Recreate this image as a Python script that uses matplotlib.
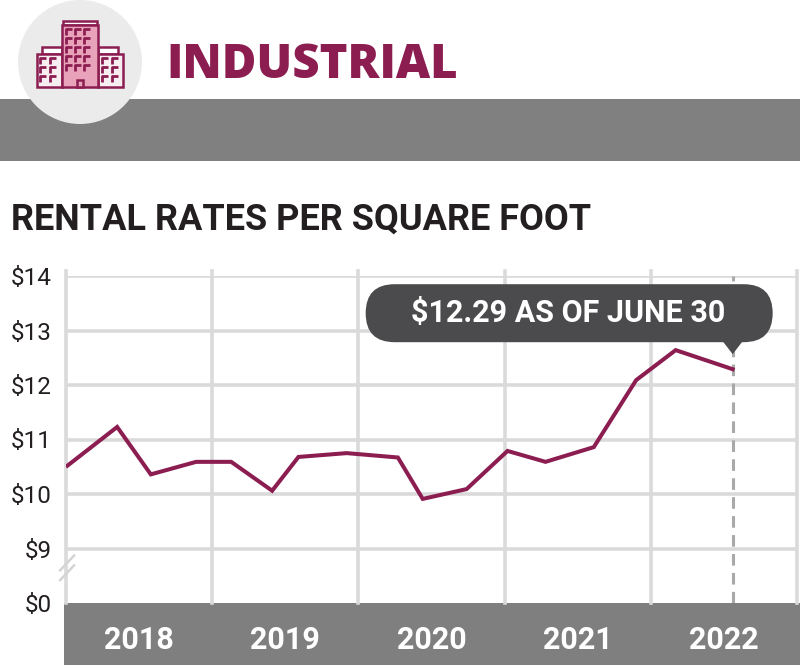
import matplotlib

matplotlib.use("Agg")
import matplotlib.pyplot as plt
import matplotlib.transforms as mtransforms
from matplotlib.patches import Circle, FancyBboxPatch, Polygon, Rectangle

# ---------------------------------------------------------------------------
# Data
# ---------------------------------------------------------------------------
dates = [
    2018.01, 2018.35, 2018.58, 2018.89, 2019.13, 2019.41, 2019.59, 2019.92,
    2020.27, 2020.44, 2020.74, 2021.02, 2021.28, 2021.61, 2021.90, 2022.17,
    2022.56,
]
rates = [
    10.52, 11.23, 10.36, 10.59, 10.59, 10.06, 10.68, 10.75,
    10.67, 9.91, 10.09, 10.79, 10.59, 10.86, 12.09, 12.64,
    12.29,
]
years = [2018, 2019, 2020, 2021, 2022]
ytick_values = [8, 9, 10, 11, 12, 13, 14]
ytick_labels = ["$0", "$9", "$10", "$11", "$12", "$13", "$14"]
as_of = "JUNE 30"

MAROON = "#8c1d51"
PINK = "#e8a3bb"
GRID = "#dadada"
BAND = "#7f7f7f"
DARK = "#4b4b4d"
INK = "#231f20"

fig = plt.figure(figsize=(8.0, 6.65), dpi=100)

# background layer in pixel coordinates (y down)
bg = fig.add_axes([0, 0, 1, 1])
bg.set_xlim(0, 800)
bg.set_ylim(665, 0)
bg.axis("off")

bg.add_patch(Rectangle((0, 99), 800, 62, color="#808080", lw=0))
bg.add_patch(Circle((80, 62), 62, color="#ebebeb", lw=0))
bg.add_patch(Rectangle((64, 603), 736, 62, color=BAND, lw=0))

# building icon
lw_icon = 1.8
bg.add_patch(Rectangle((63, 21), 34, 4, fc="white", ec=MAROON, lw=lw_icon))
bg.add_patch(Rectangle((42, 47), 20, 7, fc="white", ec=MAROON, lw=lw_icon))
bg.add_patch(Rectangle((98, 47), 20, 7, fc="white", ec=MAROON, lw=lw_icon))
bg.add_patch(Rectangle((37, 54), 25, 33, fc="#f7eef2", ec=MAROON, lw=lw_icon))
bg.add_patch(Rectangle((98, 54), 25, 33, fc="#f7eef2", ec=MAROON, lw=lw_icon))
bg.add_patch(Rectangle((62, 25), 36, 62, fc=PINK, ec=MAROON, lw=lw_icon))
bg.add_patch(Rectangle((77, 80), 6, 7, fc=PINK, ec=MAROON, lw=lw_icon))


def window(x, y):
    bg.plot([x, x, x + 6], [y + 6, y, y], color=MAROON, lw=2.0,
            solid_capstyle="butt")


for cx in (66, 75, 84):
    for ry in (29, 38, 47, 56, 65):
        window(cx, ry)
for cx in (40, 50, 102, 112):
    for ry in (58, 67, 76):
        window(cx, ry)

bg.text(166, 78, "INDUSTRIAL", fontsize=34, fontweight="heavy",
        family=["Open Sans", "DejaVu Sans"], color=MAROON, va="baseline")
bg.text(11, 230, "RENTAL RATES PER SQUARE FOOT", fontsize=26,
        fontweight="bold", family=["Roboto", "DejaVu Sans"], color=INK,
        va="baseline")

# ---------------------------------------------------------------------------
# Chart
# ---------------------------------------------------------------------------
ax = fig.add_axes([66 / 800, 62 / 665, 731 / 800, 327 / 665])
ax.patch.set_alpha(0)
ax.set_xlim(years[0], years[-1] + 1)
ax.set_ylim(ytick_values[0], ytick_values[-1])
for s in ax.spines.values():
    s.set_visible(False)

for v in ytick_values[1:]:
    ax.axhline(v, color=GRID, lw=2.6, zorder=1)
for yr in years + [years[-1] + 1]:
    ax.axvline(yr, ymin=0, ymax=1.015, color=GRID, lw=2.6, zorder=1,
               clip_on=False)

ax.axvline(dates[-1], color="#a9a9a9", lw=2.2, linestyle=(0, (3.8, 2.4)),
           zorder=2)
ax.plot(dates, rates, color=MAROON, lw=2.9, zorder=3,
        solid_joinstyle="miter")

# axis break marks
brk = mtransforms.blended_transform_factory(ax.transAxes, ax.transAxes)
for off in (0.0, 0.03):
    ax.plot([-0.008, 0.011], [0.07 + off, 0.115 + off], transform=brk,
            color="#d4d4d4", lw=1.8, clip_on=False, zorder=4)

ax.set_yticks(ytick_values)
ax.set_yticklabels([t.replace("$", r"\$") for t in ytick_labels],
                   fontsize=17.5, family=["Roboto", "DejaVu Sans"], color=INK)
ax.tick_params(axis="y", length=0, pad=10)

ax.set_xticks([y + 0.5 for y in years])
ax.set_xticklabels([str(y) for y in years], fontsize=22, fontweight="bold",
                   family=["Roboto", "DejaVu Sans"], color="white")
ax.tick_params(axis="x", length=0, pad=16)

# callout anchored on the latest value (offsets in inches)
anchor = fig.dpi_scale_trans + mtransforms.ScaledTranslation(
    dates[-1], rates[-1], ax.transData)
ax.add_patch(FancyBboxPatch((-3.67, 0.27), 4.07, 0.58,
                            boxstyle="round,pad=0,rounding_size=0.29",
                            fc=DARK, ec="none", transform=anchor,
                            clip_on=False, zorder=6))
ax.add_patch(Polygon([[-0.1, 0.28], [0.1, 0.28], [0.0, 0.15]], closed=True,
                     fc=DARK, ec="none", transform=anchor, clip_on=False,
                     zorder=6))
ax.text(-1.64, 0.56, f"\\${rates[-1]:.2f} AS OF {as_of}", transform=anchor,
        fontsize=22, fontweight="bold", family=["Roboto", "DejaVu Sans"],
        color="white", ha="center", va="center", zorder=7)

fig.savefig("out.png", dpi=100)
